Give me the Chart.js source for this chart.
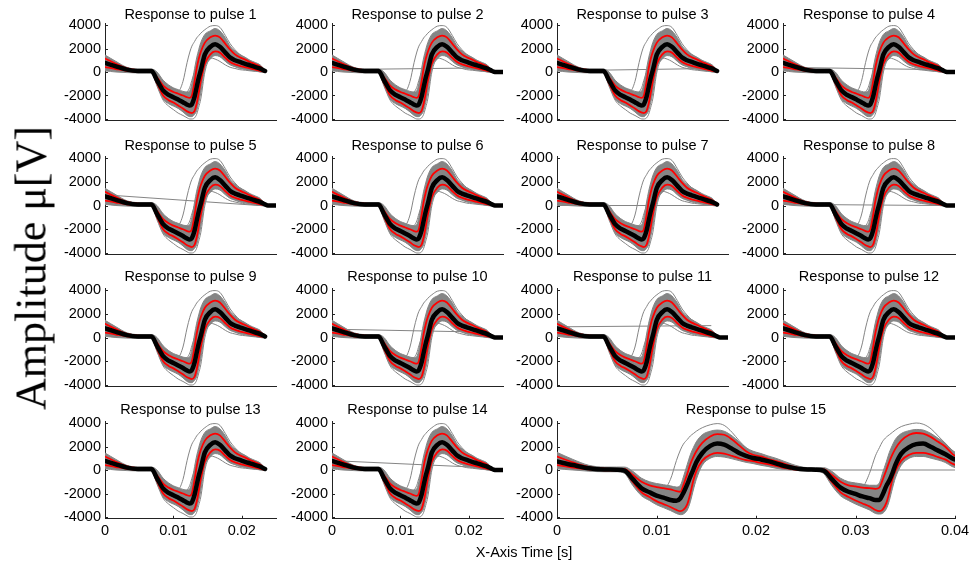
<!DOCTYPE html>
<html><head><meta charset="utf-8">
<script src="https://cdn.jsdelivr.net/npm/chart.js@4.4.1/dist/chart.umd.min.js"></script>
<style>
html,body{margin:0;padding:0;background:#fff;}
#wrap{position:relative;width:975px;height:561px;overflow:hidden;background:#fff;}
#wrap canvas{position:absolute;left:0;top:0;}
.ttl{position:absolute;font-family:"Liberation Sans",Arial,sans-serif;font-size:14.5px;color:#000;white-space:nowrap;transform:translate(-50%,-50%);}
#ylab{position:absolute;font-family:"Liberation Serif","Times New Roman",serif;font-size:44px;color:#000;white-space:nowrap;left:31px;top:268px;transform:translate(-50%,-50%) rotate(-90deg);}
</style></head><body><div id="wrap"></div>
<script>
// ---------- DATA ----------
const panelTitles = ["Response to pulse 1","Response to pulse 2","Response to pulse 3","Response to pulse 4","Response to pulse 5","Response to pulse 6","Response to pulse 7","Response to pulse 8","Response to pulse 9","Response to pulse 10","Response to pulse 11","Response to pulse 12","Response to pulse 13","Response to pulse 14","Response to pulse 15"];
const yTicks = [-4000,-2000,0,2000,4000];
const xTicksSmall = [0,0.01,0.02];
const xTicksWide = [0,0.01,0.02,0.03,0.04];

// typical response (panels 1-14), time in s, amplitude in µV
const tSmall   = [0,.0016,.0032,.0048,.0060,.0068,.0076,.0085,.0093,.0100,.0107,.0114,.0120,.0124,.0127,.0131,.0134,.0137,.0140,.0146,.0154,.0161,.0168,.0176,.0183,.0190,.0197,.0205,.0212,.0220,.0227,.0234];
const meanSmall= [770,480,200,90,90,80,-700,-1570,-1950,-2140,-2350,-2570,-2780,-2860,-2750,-2100,-1290,-500,140,1500,2140,2370,2140,1650,1230,1000,860,700,570,420,290,90];
const upSmall  = [1150,700,300,150,130,120,-450,-1150,-1500,-1700,-1850,-2000,-2150,-2200,-2000,-800,300,1100,1700,2500,2950,3100,2950,2400,1900,1500,1250,1050,850,650,450,100];
const loSmall  = [420,250,100,30,40,30,-950,-2000,-2400,-2600,-2850,-3100,-3350,-3450,-3500,-3300,-2700,-1800,-800,700,1500,1750,1650,1200,850,650,520,400,300,200,100,40];
const bandHiSmall=[1450,900,400,250,250,250,0,-700,-1100,-1350,-1500,-1650,-1700,-1600,-1000,300,1200,1900,2500,3200,3500,3700,3500,2900,2200,1800,1500,1250,1000,800,600,150];
const bandLoSmall=[100,0,-50,-80,-80,-80,-1100,-2300,-2700,-2900,-3100,-3400,-3700,-3800,-3800,-3600,-3300,-2600,-1800,300,1100,1400,1300,900,600,450,300,220,150,80,30,0];
const earlySmall=[900,550,220,120,110,100,-500,-1300,-1650,-1800,-1700,-800,800,1700,2200,2600,2900,3100,3300,3600,3900,3950,3800,3100,2400,1900,1500,1200,950,700,500,120];
const deepSmall =[600,300,100,0,0,-50,-1200,-2400,-2900,-3200,-3500,-3700,-3900,-4000,-4000,-3900,-3600,-3000,-2300,0,1300,1700,1700,1400,1000,700,500,350,200,100,0,-50];
const weakSmall =[300,150,50,0,0,0,-800,-1600,-1900,-2000,-2000,-1900,-1700,-1300,-700,0,500,800,1000,1200,1200,1100,900,600,400,300,200,150,100,50,20,0];
// per-panel straight stray trace (start/end value), and end time of the record
const flatT     = [0,0.0225];
const flatStart = [null,200,100,400,900,null,0,100,null,700,900,null,null,800];
const flatEnd   = [null,350,300,200,0,null,0,0,null,450,1000,null,null,200];
const tailEnd   = [0.0234,0.025,0.0234,0.025,0.025,0.025,0.0234,0.025,0.0234,0.025,0.025,0.025,0.0234,0.025];

// pulse 15 (two responses)
const t15    = [0,.0016,.0032,.0048,.0060,.0068,.0076,.0085,.0093,.0100,.0107,.0114,.0120,.0124,.0127,.0131,.0134,.0137,.0140,.0146,.0154,.0161,.0168,.0176,.0183,.0190,.0197,.0205,.0212,.0220,.0228,.0236,.0244,.0252,.0260,.0268,.0276,.0285,.0293,.0300,.0307,.0314,.0320,.0324,.0327,.0331,.0334,.0337,.0340,.0346,.0354,.0361,.0368,.0376,.0383,.0390,.0397,.0400];
const mean15 = [720,420,150,40,30,-60,-760,-1550,-1900,-2180,-2350,-2550,-2620,-2400,-1950,-1200,-560,40,650,1450,2050,2250,2150,1800,1440,1200,1020,900,760,570,350,200,80,40,30,-60,-760,-1500,-1850,-2040,-2250,-2400,-2550,-2550,-2150,-1350,-900,-300,420,1400,1950,2200,2250,1950,1650,1360,1000,900];
const up15   = [1150,650,250,120,100,80,-400,-1000,-1300,-1450,-1550,-1650,-1800,-1850,-1300,-300,500,1100,1600,2300,2850,3050,3000,2600,2100,1600,1300,1150,950,750,550,300,150,80,60,50,-400,-1000,-1300,-1400,-1500,-1550,-1600,-1500,-900,0,700,1300,1800,2500,3000,3150,3100,2800,2400,2000,1400,1200];
const lo15   = [420,200,50,-20,-20,-100,-1000,-1900,-2300,-2650,-2900,-3150,-3400,-3500,-3400,-2900,-2000,-900,-100,800,1300,1450,1400,1200,1000,850,750,600,500,350,180,80,20,0,0,-100,-1000,-1900,-2300,-2600,-2850,-3100,-3400,-3500,-3400,-2800,-1900,-800,-100,800,1300,1450,1450,1300,1100,900,550,450];
const bandHi15=[1500,900,400,250,250,250,-100,-700,-1000,-1150,-1250,-1350,-1450,-1300,-600,500,1300,1900,2400,3000,3300,3400,3300,2900,2400,1900,1600,1400,1200,1000,750,500,300,200,200,200,-100,-700,-1000,-1100,-1200,-1300,-1300,-1100,-300,700,1500,2100,2600,3100,3350,3450,3400,3100,2700,2300,1700,1500];
const bandLo15=[100,0,-100,-150,-150,-300,-1300,-2200,-2600,-2950,-3200,-3450,-3700,-3800,-3750,-3400,-2700,-1700,-800,400,1000,1150,1100,950,800,650,550,400,300,150,50,0,-50,-80,-100,-300,-1300,-2200,-2600,-2900,-3150,-3400,-3700,-3750,-3700,-3300,-2600,-1600,-700,400,1000,1150,1150,1000,850,650,300,200];
const early15 = [900,550,220,120,110,100,-500,-1300,-1650,-1800,-1700,-800,800,1700,2200,2600,2900,3100,3300,3600,3850,3950,3800,3200,2500,1900,1500,1250,1000,800,550,300,150,100,80,60,-500,-1300,-1600,-1700,-1500,-300,1200,1900,2400,2800,3000,3200,3400,3700,3900,4000,3900,3500,2900,2300,1700,1500];
const flat15T = [0.0045,0.04];
const flat15V = [0,0];

// ---------- LAYOUT (pixels) ----------
const colL=[105,332,557,783], colR=[276,503,728,955];
const rowY4000=[25,158,290,423], rowYm4000=[119,253,385,517];
const titleY=[14,145,276,409];
const W=975,H=561,YMAX=4150, YAXW=60, XAXH=30;
const GREY='#858585', RED='#ff0000';
const FONT='"Liberation Sans", Arial, sans-serif';

const wrap=document.getElementById('wrap');
const pts=(t,v)=>t.map((x,i)=>({x:x,y:v[i]}));
const fmtX=v=>v===0?'0':String(+v.toFixed(2));

const inTicks={id:'inTicks',afterDraw(c){
  const o=c.options.plugins.inTicks; const a=c.chartArea, ctx=c.ctx;
  ctx.save(); ctx.strokeStyle='#222'; ctx.lineWidth=1; ctx.beginPath();
  yTicks.forEach(v=>{const p=Math.round(c.scales.y.getPixelForValue(v))+0.5; ctx.moveTo(a.left,p); ctx.lineTo(a.left+3,p);});
  if(o.bottom){o.xt.forEach(v=>{const p=Math.round(c.scales.x.getPixelForValue(v))+0.5; ctx.moveTo(p,a.bottom); ctx.lineTo(p,a.bottom-3);});}
  ctx.stroke(); ctx.restore();
}};

function withTail(arr,end){
  if(end>0.0236){return arr.concat([{x:0.0238,y:0},{x:end,y:0}]);}
  return arr;
}

function makePanel(idx,row,L,R,xmax,xt,bottom,sets){
  const cv=document.createElement('canvas'); cv.width=W; cv.height=H; wrap.appendChild(cv);
  const s=(rowYm4000[row]-rowY4000[row])/8000;
  const T=rowY4000[row]-(YMAX-4000)*s, B=rowYm4000[row]+(YMAX-4000)*s;
  const tick={color:'#000',font:{family:FONT,size:14.5},autoSkip:false,maxRotation:0};
  new Chart(cv,{type:'line',data:{datasets:sets},options:{
    responsive:false,animation:false,events:[],
    layout:{padding:{left:L-YAXW,right:W-R,top:T,bottom:H-B-XAXH}},
    elements:{point:{radius:0},line:{cubicInterpolationMode:'monotone',borderCapStyle:'round',borderJoinStyle:'round'}},
    plugins:{legend:{display:false},tooltip:{enabled:false},inTicks:{bottom:bottom,xt:xt}},
    scales:{
      x:{type:'linear',min:0,max:xmax,afterFit:sc=>{sc.height=XAXH;},
         afterBuildTicks:sc=>{sc.ticks=xt.map(v=>({value:v}));},
         grid:{display:false,drawTicks:false},border:{display:true,color:'#222',width:1},
         ticks:Object.assign({display:bottom,padding:4,callback:v=>fmtX(v)},tick)},
      y:{type:'linear',min:-YMAX,max:YMAX,afterFit:sc=>{sc.width=YAXW;},
         afterBuildTicks:sc=>{sc.ticks=yTicks.map(v=>({value:v}));},
         grid:{display:false,drawTicks:false},border:{display:true,color:'#222',width:1},
         ticks:Object.assign({padding:4,callback:v=>String(v)},tick)}
    }},plugins:[inTicks]});
  const d=document.createElement('div'); d.className='ttl'; d.textContent=panelTitles[idx];
  d.style.left=((L+R)/2)+'px'; d.style.top=titleY[row]+'px'; wrap.appendChild(d);
}

function lineDs(data,color,width,order,extra){
  return Object.assign({data:data,borderColor:color,borderWidth:width,fill:false,order:order,pointRadius:0},extra||{});
}

for(let i=0;i<14;i++){
  const row=Math.floor(i/4), col=i%4;
  const e=tailEnd[i];
  const sets=[
    lineDs(withTail(pts(tSmall,bandHiSmall),e),GREY,1,6,{fill:'+1',backgroundColor:GREY}),
    lineDs(withTail(pts(tSmall,bandLoSmall),e),GREY,1,6),
    lineDs(pts(tSmall,earlySmall),GREY,1,4),
    lineDs(pts(tSmall,deepSmall),GREY,1,4),
    lineDs(pts(tSmall,weakSmall),GREY,1,4),
    lineDs(withTail(pts(tSmall,upSmall),e),RED,1.8,2),
    lineDs(withTail(pts(tSmall,loSmall),e),RED,1.8,2),
    lineDs(withTail(pts(tSmall,meanSmall),e),'#000',4.5,1)
  ];
  if(flatStart[i]!==null){sets.push(lineDs(pts(flatT,[flatStart[i],flatEnd[i]]),GREY,1,3,{cubicInterpolationMode:'default',tension:0}));}
  makePanel(i,row,colL[col],colR[col],0.025,xTicksSmall,row===3,sets);
}
// panel 15
makePanel(14,3,colL[2],colR[3],0.04,xTicksWide,true,[
  lineDs(pts(t15,bandHi15),GREY,1,6,{fill:'+1',backgroundColor:GREY}),
  lineDs(pts(t15,bandLo15),GREY,1,6),
  lineDs(pts(t15,early15),GREY,1,4),
  lineDs(pts(flat15T,flat15V),GREY,1.2,4,{cubicInterpolationMode:'default',tension:0}),
  lineDs(pts(t15,up15),RED,1.8,2),
  lineDs(pts(t15,lo15),RED,1.8,2),
  lineDs(pts(t15,mean15),'#000',4.5,1)
]);

const yl=document.createElement('div'); yl.id='ylab'; yl.textContent='Amplitude μ[V]'; wrap.appendChild(yl);
const xl=document.createElement('div'); xl.className='ttl'; xl.textContent='X-Axis Time [s]';
xl.style.left='524px'; xl.style.top='552px'; wrap.appendChild(xl);
</script>
</body></html>
